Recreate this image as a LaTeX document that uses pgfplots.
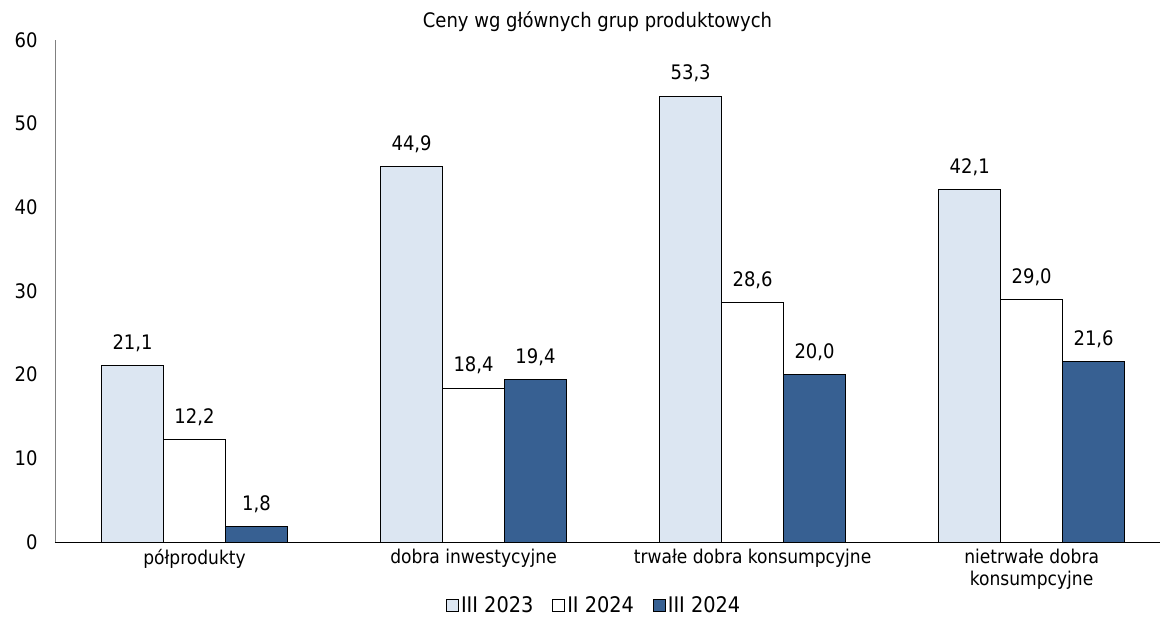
\documentclass[border=0pt]{standalone}
\usepackage{pgfplots}
\pgfplotsset{compat=1.18}
\usepackage{fontspec}
\setmainfont{DejaVu Sans Condensed}
\definecolor{lb}{HTML}{DCE6F2}
\definecolor{db}{HTML}{376092}
\begin{document}
\begin{tikzpicture}[font=\fontsize{19}{22}\selectfont]
\begin{axis}[
  name=ax,
  scale only axis, width=1105pt, height=502pt,
  ymin=0, ymax=60, ytick={0,10,...,60},
  xmin=-0.5, xmax=3.46,
  xtick={0,1,2,3},
  xticklabels={półprodukty, dobra inwestycyjne, trwałe dobra konsumpcyjne, {nietrwałe dobra\\konsumpcyjne}},
  xticklabel style={align=center, yshift=-4pt},
  yticklabel style={xshift=-14pt, font=\fontsize{20}{22}\selectfont},
  major tick length=0pt,
  axis x line=bottom, axis y line=left,
  axis line style={-}, y axis line style={draw=gray},
  x axis line style={draw=black},
  ybar=0pt, bar width=0.222,
  /pgf/number format/assume math mode=true,
  /pgf/number format/.cd, fixed, fixed zerofill, precision=1, use comma,
  /pgfplots/.cd,
  yticklabel={\pgfmathprintnumber[fixed, precision=0]{\tick}},
  nodes near coords,
  nodes near coords style={yshift=10pt, font=\fontsize{20}{22}\selectfont},
  every axis plot/.append style={draw=black, line width=0.9pt},
  legend style={at={(0.488,-0.1)}, anchor=north, draw=none, legend columns=3,
    font=\fontsize{21.5}{22}\selectfont},
  legend image code/.code={\draw[#1, line width=0.8pt] (0pt,-6pt) rectangle (12pt,6pt);},
  clip=false,
]
\addplot[fill=lb] coordinates {(0,21.1) (1,44.9) (2,53.3) (3,42.1)};
\addplot[fill=white] coordinates {(0,12.2) (1,18.4) (2,28.6) (3,29.0)};
\addplot[fill=db] coordinates {(0,1.8) (1,19.4) (2,20.0) (3,21.6)};
\legend{III 2023\hspace*{17pt}, II 2024\hspace*{17pt}, III 2024}
\node[anchor=center, font=\fontsize{20}{22}\selectfont] at (rel axis cs:0.491,1.036) {Ceny wg głównych grup produktowych};
\end{axis}
\pgfresetboundingbox
\path ([shift={(-55pt,-80pt)}]ax.south west) rectangle ([shift={(1114pt,40pt)}]ax.north west);
\end{tikzpicture}
\end{document}
